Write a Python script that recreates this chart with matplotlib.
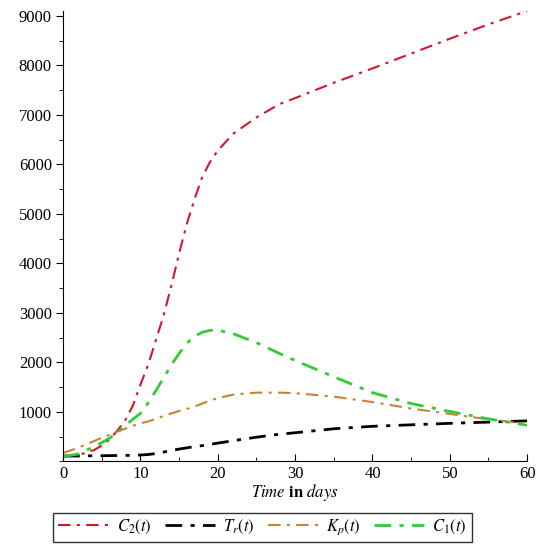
import matplotlib.pyplot as plt
from matplotlib.ticker import MultipleLocator

plt.rcParams['font.family'] = ['Liberation Serif', 'DejaVu Serif']
plt.rcParams['mathtext.fontset'] = 'stix'

# values
t = [0, 2, 4, 5, 6, 7, 8, 9, 10, 11, 12, 13, 14, 15, 16, 17, 18, 19, 20,
     22, 25, 28, 30, 35, 40, 45, 50, 55, 60]
c2 = [100, 130, 230, 320, 440, 620, 820, 1120, 1550, 1950, 2450, 2950, 3550,
      4200, 4800, 5300, 5750, 6050, 6280, 6620, 6950, 7220, 7340, 7650, 7940,
      8240, 8540, 8830, 9100]
tr = [110, 110, 115, 115, 118, 120, 122, 125, 130, 140, 160, 190, 220, 250,
      275, 300, 320, 345, 370, 420, 490, 550, 580, 660, 710, 740, 770, 795, 820]
kp = [170, 280, 410, 480, 540, 600, 660, 720, 770, 810, 860, 920, 970, 1020,
      1060, 1110, 1170, 1230, 1280, 1350, 1390, 1390, 1380, 1310, 1200, 1070,
      960, 850, 760]
c1 = [100, 150, 300, 380, 470, 580, 720, 850, 970, 1180, 1430, 1690, 1950,
      2180, 2390, 2530, 2610, 2650, 2650, 2580, 2400, 2180, 2040, 1710, 1390,
      1170, 1010, 860, 730]
labels = ['$C_2(t)$', '$T_r(t)$', '$K_p(t)$', '$C_1(t)$']

fig = plt.figure(figsize=(5.39, 5.50), dpi=100)
ax = fig.add_axes([0.117, 0.161, 0.861, 0.819])

ax.plot(t, c2, color='#d2182d', lw=1.5, dashes=(6, 3, 1.5, 3), label=labels[0])
ax.plot(t, tr, color='black', lw=2, dashes=(6, 3, 1.5, 3), label=labels[1])
ax.plot(t, kp, color='#c8823c', lw=1.5, dashes=(6, 3, 1.5, 3), label=labels[2])
ax.plot(t, c1, color='#33cc33', lw=2, dashes=(6, 3, 1.5, 3), label=labels[3])

ax.set_xlim(0, 60)
ax.set_ylim(0, 9100)
ax.set_xticks([0, 10, 20, 30, 40, 50, 60])
ax.set_yticks([1000, 2000, 3000, 4000, 5000, 6000, 7000, 8000, 9000])
ax.xaxis.set_minor_locator(MultipleLocator(5))
ax.yaxis.set_minor_locator(MultipleLocator(500))
ax.tick_params(axis='x', which='both', direction='in', labelsize=12, pad=3)
ax.tick_params(axis='y', which='both', direction='out', labelsize=12, pad=3)
ax.tick_params(which='major', length=5)
ax.tick_params(which='minor', length=3)
for s in ['top', 'right']:
    ax.spines[s].set_visible(False)

ax.set_xlabel(r'$\mathit{Time}$ $\mathbf{in}$ $\mathit{days}$', fontsize=12, labelpad=0)

ax.legend(loc='upper center', bbox_to_anchor=(0.43, -0.095), ncol=4,
          frameon=True, fancybox=False, edgecolor='black', fontsize=12,
          handlelength=3, handletextpad=0.5, columnspacing=0.8,
          borderpad=0.3)

fig.savefig('out.png', dpi=100)
